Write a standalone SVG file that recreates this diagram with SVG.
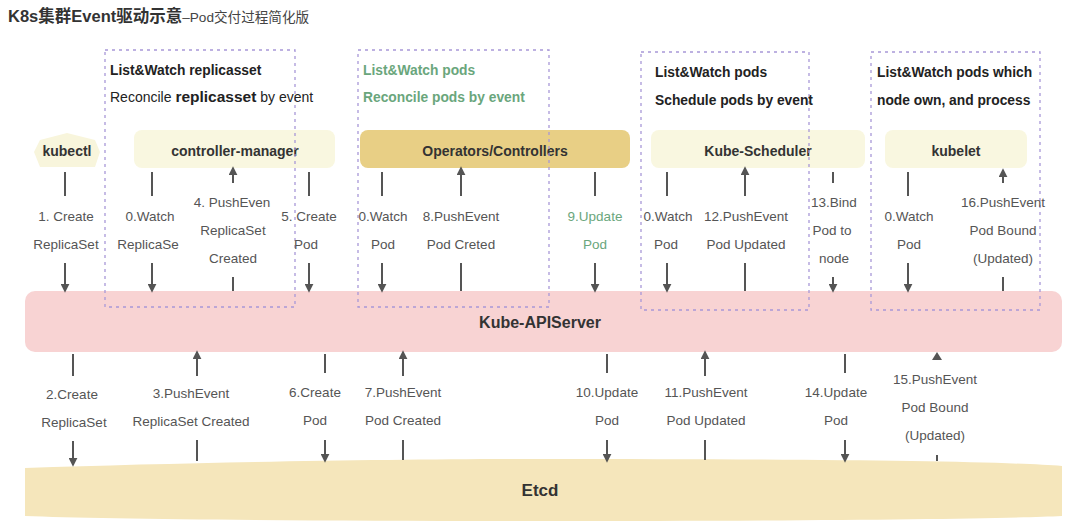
<svg xmlns="http://www.w3.org/2000/svg" width="1080" height="531" viewBox="0 0 1080 531">
<style>
text{font-family:"Liberation Sans","Noto Sans CJK SC",sans-serif}
.lbl{font-size:13.5px;fill:#555;text-anchor:middle}
.lbl.grn{fill:#6aa67c}
.hdr{font-size:13.8px;font-weight:bold;fill:#222}
.hdr.grn{fill:#6aa67c}
.node{font-size:14px;font-weight:bold;fill:#333;text-anchor:middle}
.box{fill:none;stroke:#a898d8;stroke-width:1.3;stroke-dasharray:3 4}
.ln{stroke:#555;stroke-width:2;fill:none}
.ar{stroke:#555;stroke-width:2;fill:none;marker-end:url(#ah)}
</style>
<defs>
<marker id="ah" viewBox="0 0 10 10" refX="8" refY="5" markerWidth="4.5" markerHeight="4.5" orient="auto" markerUnits="strokeWidth">
<path d="M0,0 L10,5 L0,10 Z" fill="#555"/>
</marker>
</defs>
<rect width="1080" height="531" fill="#fff"/>
<g id="title">
<text x="8" y="22" style="font-size:16.5px;font-weight:bold;fill:#333">K8s集群Event驱动示意<tspan style="font-size:13.6px;font-weight:normal;fill:#444">–Pod交付过程简化版</tspan></text>
</g>
<g id="apiserver">
<rect x="25" y="291" width="1037" height="61" rx="10" fill="#f8d3d3"/>
<text x="540" y="328" class="node" style="font-size:16px">Kube-APIServer</text>
</g>
<g id="etcd">
<path d="M25,468 C200,462 400,459 540,459 C800,459 1000,461 1062,466 L1062,516 C1000,519 800,521 540,521 C300,521 100,519 25,516 Z" fill="#f5e6bb"/>
<text x="540" y="496" class="node" style="font-size:17px">Etcd</text>
</g>
<g id="kubectl">
<path d="M40,140 L67,133 L95,140 L100,152 L95,167 L40,167 L34,152 Z" fill="#f8f5dc"/>
<text x="67" y="156" class="node">kubectl</text>
</g>
<g id="controller-manager">
<rect x="134" y="130" width="201" height="38" rx="8" fill="#f9f7e0"/>
<text x="235" y="156" class="node">controller-manager</text>
</g>
<g id="operators">
<rect x="360" y="130" width="270" height="38" rx="8" fill="#e8cf85"/>
<text x="495" y="156" class="node">Operators/Controllers</text>
</g>
<g id="scheduler">
<rect x="651" y="130" width="214" height="38" rx="8" fill="#f9f7e0"/>
<text x="758" y="156" class="node">Kube-Scheduler</text>
</g>
<g id="kubelet">
<rect x="885" y="130" width="142" height="38" rx="8" fill="#f9f7e0"/>
<text x="956" y="156" class="node">kubelet</text>
</g>
<g id="groups">
<rect class="box" x="105" y="50" width="190" height="257"/>
<text class="hdr" x="110" y="75">List&amp;Watch replicasset</text>
<text class="hdr" x="110" y="102"><tspan style="font-weight:normal;font-size:14px">Reconcile </tspan><tspan style="font-size:15.5px">replicasset</tspan><tspan style="font-weight:normal;font-size:14px"> by event</tspan></text>
<rect class="box" x="358" y="50" width="191" height="257"/>
<text class="hdr grn" x="363" y="75">List&amp;Watch pods</text>
<text class="hdr grn" x="363" y="102">Reconcile pods by event</text>
<rect class="box" x="641" y="52" width="168" height="258"/>
<text class="hdr" x="655" y="77">List&amp;Watch pods</text>
<text class="hdr" x="655" y="105">Schedule pods by event</text>
<rect class="box" x="871" y="52" width="169" height="258"/>
<text class="hdr" x="877" y="77">List&amp;Watch pods which</text>
<text class="hdr" x="877" y="105">node own,  and process</text>
</g>
<g id="connectors">
<line class="ln" x1="65" y1="172" x2="65" y2="196"/><line class="ar" x1="65" y1="263" x2="65" y2="291"/>
<line class="ln" x1="152" y1="172" x2="152" y2="196"/><line class="ar" x1="152" y1="263" x2="152" y2="291"/>
<line class="ln" x1="309" y1="172" x2="309" y2="196"/><line class="ar" x1="309" y1="263" x2="309" y2="291"/>
<line class="ln" x1="382" y1="172" x2="382" y2="196"/><line class="ar" x1="382" y1="263" x2="382" y2="291"/>
<line class="ln" x1="595" y1="172" x2="595" y2="196"/><line class="ar" x1="595" y1="263" x2="595" y2="291"/>
<line class="ln" x1="667" y1="172" x2="667" y2="196"/><line class="ar" x1="667" y1="263" x2="667" y2="291"/>
<line class="ln" x1="833" y1="172" x2="833" y2="183"/><line class="ar" x1="833" y1="277" x2="833" y2="291"/>
<line class="ln" x1="908" y1="172" x2="908" y2="196"/><line class="ar" x1="908" y1="263" x2="908" y2="291"/>
<line class="ar" x1="233" y1="183" x2="233" y2="168"/><line class="ln" x1="233" y1="277" x2="233" y2="291"/>
<line class="ar" x1="461" y1="196" x2="461" y2="168"/><line class="ln" x1="461" y1="263" x2="461" y2="291"/>
<line class="ar" x1="745" y1="196" x2="745" y2="168"/><line class="ln" x1="745" y1="263" x2="745" y2="291"/>
<line class="ar" x1="1003" y1="183" x2="1003" y2="170"/><line class="ln" x1="1003" y1="277" x2="1003" y2="291"/>
<line class="ln" x1="73" y1="354" x2="73" y2="376"/><line class="ar" x1="73" y1="441" x2="73" y2="465"/>
<line class="ln" x1="325" y1="354" x2="325" y2="373"/><line class="ar" x1="325" y1="440" x2="325" y2="461"/>
<line class="ln" x1="607" y1="354" x2="607" y2="373"/><line class="ar" x1="607" y1="440" x2="607" y2="461"/>
<line class="ln" x1="845" y1="354" x2="845" y2="373"/><line class="ar" x1="845" y1="440" x2="845" y2="461"/>
<line class="ar" x1="197" y1="376" x2="197" y2="352"/><line class="ln" x1="197" y1="440" x2="197" y2="461"/>
<line class="ar" x1="403" y1="376" x2="403" y2="352"/><line class="ln" x1="403" y1="440" x2="403" y2="460"/>
<line class="ar" x1="705" y1="376" x2="705" y2="352"/><line class="ln" x1="705" y1="440" x2="705" y2="460"/>
<path d="M932,360 L937,352 L942,360 Z" fill="#555"/><line class="ln" x1="937" y1="455" x2="937" y2="461"/>
</g>
<g id="labels">
<text class="lbl" x="66" y="221">1. Create</text><text class="lbl" x="66" y="249">ReplicaSet</text>
<text class="lbl" x="150" y="221">0.Watch</text><text class="lbl" x="148" y="249">ReplicaSe</text>
<text class="lbl" x="232" y="207">4. PushEven</text><text class="lbl" x="233" y="235">ReplicaSet</text><text class="lbl" x="233" y="263">Created</text>
<text class="lbl" x="309" y="221">5. Create</text><text class="lbl" x="306" y="249">Pod</text>
<text class="lbl" x="383" y="221">0.Watch</text><text class="lbl" x="383" y="249">Pod</text>
<text class="lbl" x="461" y="221">8.PushEvent</text><text class="lbl" x="461" y="249">Pod Creted</text>
<text class="lbl grn" x="595" y="221">9.Update</text><text class="lbl grn" x="595" y="249">Pod</text>
<text class="lbl" x="668" y="221">0.Watch</text><text class="lbl" x="666" y="249">Pod</text>
<text class="lbl" x="746" y="221">12.PushEvent</text><text class="lbl" x="746" y="249">Pod Updated</text>
<text class="lbl" x="834" y="207">13.Bind</text><text class="lbl" x="832" y="235">Pod to</text><text class="lbl" x="834" y="263">node</text>
<text class="lbl" x="909" y="221">0.Watch</text><text class="lbl" x="909" y="249">Pod</text>
<text class="lbl" x="1003" y="207">16.PushEvent</text><text class="lbl" x="1003" y="235">Pod Bound</text><text class="lbl" x="1003" y="263">(Updated)</text>
<text class="lbl" x="72" y="399">2.Create</text><text class="lbl" x="74" y="427">ReplicaSet</text>
<text class="lbl" x="191" y="398">3.PushEvent</text><text class="lbl" x="191" y="426">ReplicaSet Created</text>
<text class="lbl" x="315" y="397">6.Create</text><text class="lbl" x="315" y="425">Pod</text>
<text class="lbl" x="403" y="397">7.PushEvent</text><text class="lbl" x="403" y="425">Pod Created</text>
<text class="lbl" x="607" y="397">10.Update</text><text class="lbl" x="607" y="425">Pod</text>
<text class="lbl" x="706" y="397">11.PushEvent</text><text class="lbl" x="706" y="425">Pod Updated</text>
<text class="lbl" x="836" y="397">14.Update</text><text class="lbl" x="836" y="425">Pod</text>
<text class="lbl" x="935" y="384">15.PushEvent</text><text class="lbl" x="935" y="412">Pod Bound</text><text class="lbl" x="935" y="440">(Updated)</text>
</g>
</svg>
